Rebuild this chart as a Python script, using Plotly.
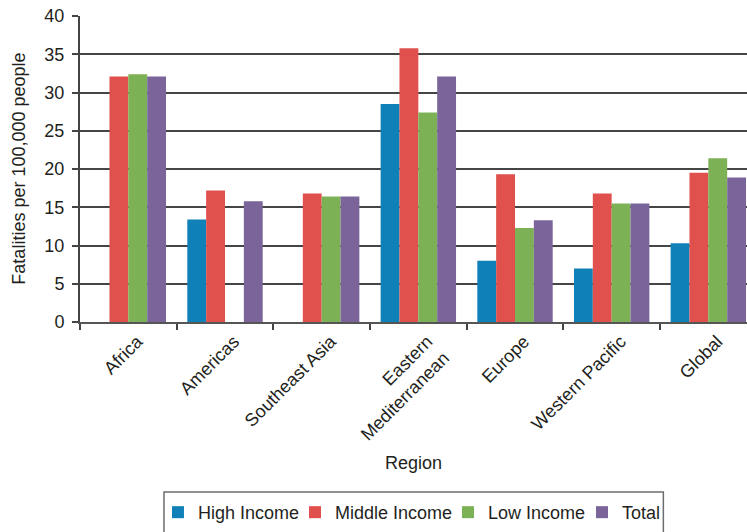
import plotly.graph_objects as go

# Road traffic fatalities per 100,000 people, by WHO region and income group
regions = ["Africa", "Americas", "Southeast Asia", "Eastern<br>Mediterranean",
           "Europe", "Western Pacific", "Global"]
high_income = [None, 13.4, None, 28.5, 8.0, 7.0, 10.3]
middle_income = [32.1, 17.2, 16.8, 35.8, 19.3, 16.8, 19.5]
low_income = [32.4, None, 16.4, 27.4, 12.3, 15.5, 21.4]
total = [32.1, 15.8, 16.4, 32.1, 13.3, 15.5, 18.9]

series = [
    ("High Income", high_income, "#1080b8"),
    ("Middle Income", middle_income, "#e0504c"),
    ("Low Income", low_income, "#7db155"),
    ("Total", total, "#7b649a"),
]

FONT = "Liberation Sans, Arial, Helvetica, sans-serif"
TXT = "#231f20"

# one legend per series so the entries sit in a single boxed row
legend_ids = ["legend", "legend2", "legend3", "legend4"]
legend_x = [0.1169, 0.3223, 0.5517, 0.7526]

fig = go.Figure()
for (name, vals, color), lid in zip(series, legend_ids):
    fig.add_trace(go.Bar(
        name=name, x=regions, y=vals, legend=lid,
        marker=dict(color=color, line=dict(width=0)),
    ))

legend_style = dict(
    orientation="h", xanchor="left", y=-0.562, yanchor="top",
    borderwidth=0, bgcolor="rgba(0,0,0,0)",
    font=dict(size=18, family=FONT, color=TXT), itemwidth=30,
)

layout_legends = {}
for lid, lx in zip(legend_ids, legend_x):
    layout_legends[lid] = dict(legend_style, x=lx)

fig.update_layout(
    width=747, height=532,
    margin=dict(l=80, r=0, t=16, b=210),
    paper_bgcolor="white", plot_bgcolor="white",
    barmode="group", bargap=0.22, bargroupgap=0,
    font=dict(family=FONT, color=TXT),
    showlegend=True,
    xaxis=dict(
        type="category", range=[-0.5, 6.4],
        tickson="boundaries", ticks="outside", ticklen=6, tickwidth=1.5,
        tickcolor="#444444", showline=True, linecolor="#555555", linewidth=2,
        tickangle=-45, tickfont=dict(size=18, family=FONT, color=TXT),
        ticklabelshift=9, showgrid=False,
    ),
    yaxis=dict(
        range=[0, 40], dtick=5, ticks="outside", ticklen=6, tickwidth=1.5,
        tickcolor="#444444", showline=True, linecolor="#444444", linewidth=2,
        showgrid=True, gridcolor="#454545", gridwidth=1.8,
        tickfont=dict(size=18, family=FONT, color=TXT),
        zeroline=False, ticklabelstandoff=4,
    ),
    shapes=[
        # frame around the legend row
        dict(type="rect", xref="paper", yref="paper",
             x0=0.1259, x1=0.8746, y0=-0.5556, y1=-0.75,
             line=dict(color="#6d6e71", width=1.5), fillcolor="rgba(0,0,0,0)",
             layer="below"),
    ],
    annotations=[
        dict(text="Region", xref="paper", yref="paper", x=0.5, y=-0.46,
             xanchor="center", yanchor="middle", showarrow=False,
             font=dict(size=18, family=FONT, color=TXT)),
        dict(text="Fatalities per 100,000 people", xref="paper", yref="paper",
             x=-0.092, y=0.5, textangle=-90, xanchor="center", yanchor="middle",
             showarrow=False, font=dict(size=18, family=FONT, color=TXT)),
    ],
    **layout_legends,
)

fig.write_html("out.html")
